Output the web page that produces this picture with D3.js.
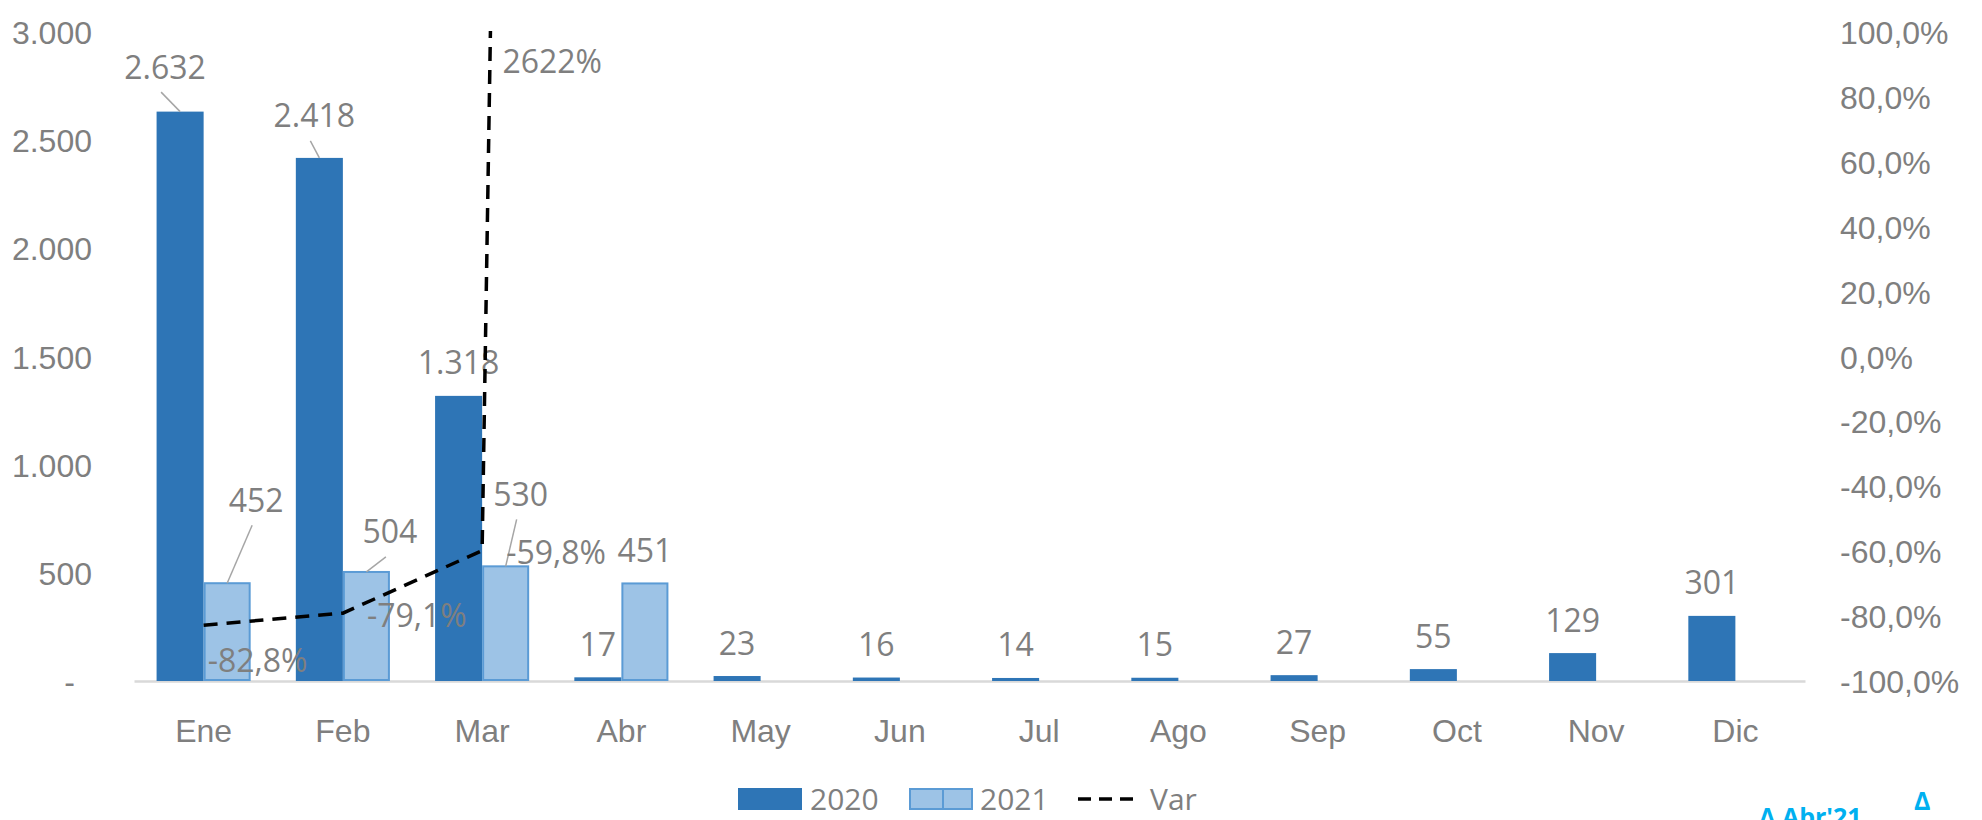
<!DOCTYPE html>
<html>
<head>
<meta charset="utf-8">
<script src="https://cdn.jsdelivr.net/npm/d3@7"></script>
<style>
  body { margin: 0; background: #fff; }
  svg { display: block; font-family: "Open Sans", sans-serif; }
</style>
</head>
<body>
<svg width="1982" height="820"></svg>
<script>
// data
const months = ["Ene", "Feb", "Mar", "Abr", "May", "Jun", "Jul", "Ago", "Sep", "Oct", "Nov", "Dic"];
const values2020 = [2632, 2418, 1318, 17, 23, 16, 14, 15, 27, 55, 129, 301];
const values2021 = [452, 504, 530, 451];
const variacion = [-0.828, -0.791, -0.598, 26.22];
const leftTicks = [0, 500, 1000, 1500, 2000, 2500, 3000];
const rightTicks = [-1, -0.8, -0.6, -0.4, -0.2, 0, 0.2, 0.4, 0.6, 0.8, 1];

const gray = "#7f7f7f";
const dark = "#2e75b6";
const light = "#9dc3e6";
const lightEdge = "#5b9bd5";

const loc = d3.formatLocale({decimal: ",", thousands: ".", grouping: [3], currency: ["", ""], minus: "-"});
const fmtNum = loc.format(",");
const fmtPct = loc.format(".1%");
const fmtPct0 = loc.format(".0%");

var svg = d3.select("svg");

const plotTop = 32, plotBottom = 681, plotLeft = 134, plotRight = 1805;

const x = d3.scaleBand().domain(months).range([plotLeft, plotRight]).padding(0);
const x1 = d3.scaleBand().domain(["2020", "2021"]).range([0, x.bandwidth()]).paddingInner(0).paddingOuter(0.48);
const yL = d3.scaleLinear().domain([0, 3000]).range([plotBottom, plotTop]);
const yR = d3.scaleLinear().domain([-1, 1]).range([plotBottom, plotTop]);

// ejes
const axL = svg.append("g")
  .attr("transform", "translate(92,0)")
  .call(d3.axisLeft(yL).tickValues(leftTicks).tickSize(0).tickPadding(0)
    .tickFormat(d => d === 0 ? "-" : fmtNum(d)));
axL.select(".domain").remove();
axL.selectAll("text").attr("fill", gray).attr("font-size", 32).attr("dy", "0.36em")
  .filter(d => d === 0).attr("x", -17);

const axR = svg.append("g")
  .attr("transform", "translate(1840,0)")
  .call(d3.axisRight(yR).tickValues(rightTicks).tickSize(0).tickPadding(0).tickFormat(fmtPct));
axR.select(".domain").remove();
axR.selectAll("text").attr("fill", gray).attr("font-size", 32).attr("dy", "0.36em");

const axX = svg.append("g")
  .attr("transform", "translate(0," + plotBottom + ")")
  .call(d3.axisBottom(x).tickSize(0).tickPadding(38));
axX.select(".domain").attr("stroke", "#d9d9d9").attr("stroke-width", 2.5);
axX.selectAll("text").attr("fill", gray).attr("font-size", 32);

// barras
const bars2020 = months.map((m, i) => ({m: m, v: values2020[i], i: i}));
const bars2021 = values2021.map((v, i) => ({m: months[i], v: v, i: i}));

svg.append("g").selectAll("rect")
  .data(bars2020)
  .enter()
  .append("rect")
    .attr("x", d => x(d.m) + x1("2020"))
    .attr("y", d => yL(d.v))
    .attr("width", x1.bandwidth())
    .attr("height", d => plotBottom - yL(d.v))
    .attr("fill", dark);

svg.append("g").selectAll("rect")
  .data(bars2021)
  .enter()
  .append("rect")
    .attr("x", d => x(d.m) + x1("2021") + 1)
    .attr("y", d => yL(d.v))
    .attr("width", x1.bandwidth() - 2)
    .attr("height", d => plotBottom - yL(d.v) - 1)
    .attr("fill", light)
    .attr("stroke", lightEdge)
    .attr("stroke-width", 2);

// etiquetas de barras (algunas movidas a mano, con linea guia)
const nudge2020 = {0: [-15, -11.5], 1: [-5, -9]};
const nudge2021 = {0: [29, -50], 1: [23.5, -7], 2: [15, -39]};

function barLabels(data, serie, nudges) {
  const g = svg.append("g");
  data.forEach(d => {
    const cx = x(d.m) + x1(serie) + x1.bandwidth() / 2;
    const ty = yL(d.v);
    let lx = cx, ly = ty - 33;
    const n = nudges[d.i];
    if (n) {
      lx += n[0]; ly += n[1];
      g.append("line")
        .attr("x1", lx - 4).attr("y1", ly + 25)
        .attr("x2", cx).attr("y2", ty)
        .attr("stroke", "#a6a6a6").attr("stroke-width", 1.5);
    }
    g.append("text")
      .attr("x", lx).attr("y", ly).attr("dy", "0.36em")
      .attr("text-anchor", "middle")
      .attr("font-size", 32).attr("fill", gray)
      .text(fmtNum(d.v));
  });
}
barLabels(bars2020, "2020", nudge2020);
barLabels(bars2021, "2021", nudge2021);

// linea de variacion
svg.append("clipPath").attr("id", "plot")
  .append("rect").attr("x", plotLeft).attr("y", plotTop - 1)
  .attr("width", plotRight - plotLeft).attr("height", plotBottom - plotTop + 40);

const pts = variacion.map((v, i) => [x(months[i]) + x.bandwidth() / 2, yR(v)]);

svg.append("path")
  .datum(pts)
  .attr("clip-path", "url(#plot)")
  .attr("d", d3.line())
  .attr("fill", "none")
  .attr("stroke", "#000")
  .attr("stroke-width", 3.5)
  .attr("stroke-dasharray", "14,9");

const varNudge = {0: [-20, 33]};
const gv = svg.append("g");
pts.forEach((p, i) => {
  let lx, ly, txt;
  if (p[1] < plotTop) {
    // punto fuera del grafico: etiqueta junto al corte con el borde superior
    const a = pts[i - 1];
    const t = (a[1] - plotTop) / (a[1] - p[1]);
    lx = a[0] + t * (p[0] - a[0]) + 12;
    ly = plotTop + 29;
    txt = fmtPct0(variacion[i]);
  } else {
    lx = p[0] + 24; ly = p[1] + 2;
    if (varNudge[i]) { lx += varNudge[i][0]; ly += varNudge[i][1]; }
    txt = fmtPct(variacion[i]);
  }
  gv.append("text")
    .attr("x", lx).attr("y", ly).attr("dy", "0.36em")
    .attr("font-size", 32).attr("fill", gray)
    .text(txt);
});

// leyenda
const lg = svg.append("g");
lg.append("rect").attr("x", 738).attr("y", 788).attr("width", 64).attr("height", 22).attr("fill", dark);
lg.append("text").attr("x", 810).attr("y", 810).attr("font-size", 30).attr("fill", gray).text("2020");
lg.append("rect").attr("x", 910).attr("y", 789).attr("width", 33).attr("height", 20)
  .attr("fill", light).attr("stroke", lightEdge).attr("stroke-width", 2);
lg.append("rect").attr("x", 943).attr("y", 789).attr("width", 29).attr("height", 20)
  .attr("fill", light).attr("stroke", lightEdge).attr("stroke-width", 2);
lg.append("text").attr("x", 980).attr("y", 810).attr("font-size", 30).attr("fill", gray).text("2021");
lg.append("line").attr("x1", 1078).attr("x2", 1136).attr("y1", 799).attr("y2", 799)
  .attr("stroke", "#000").attr("stroke-width", 3.5).attr("stroke-dasharray", "13,8");
lg.append("text").attr("x", 1150).attr("y", 810).attr("font-size", 30).attr("fill", gray).text("Var");

// textos cortados abajo a la derecha
svg.append("text").attr("x", 1759).attr("y", 826).attr("font-size", 25).attr("font-weight", "bold")
  .attr("fill", "#00b0f0").text("Δ Abr'21");
svg.append("text").attr("x", 1914).attr("y", 810).attr("font-size", 25).attr("font-weight", "bold")
  .attr("fill", "#00b0f0").text("Δ");
</script>
</body>
</html>
